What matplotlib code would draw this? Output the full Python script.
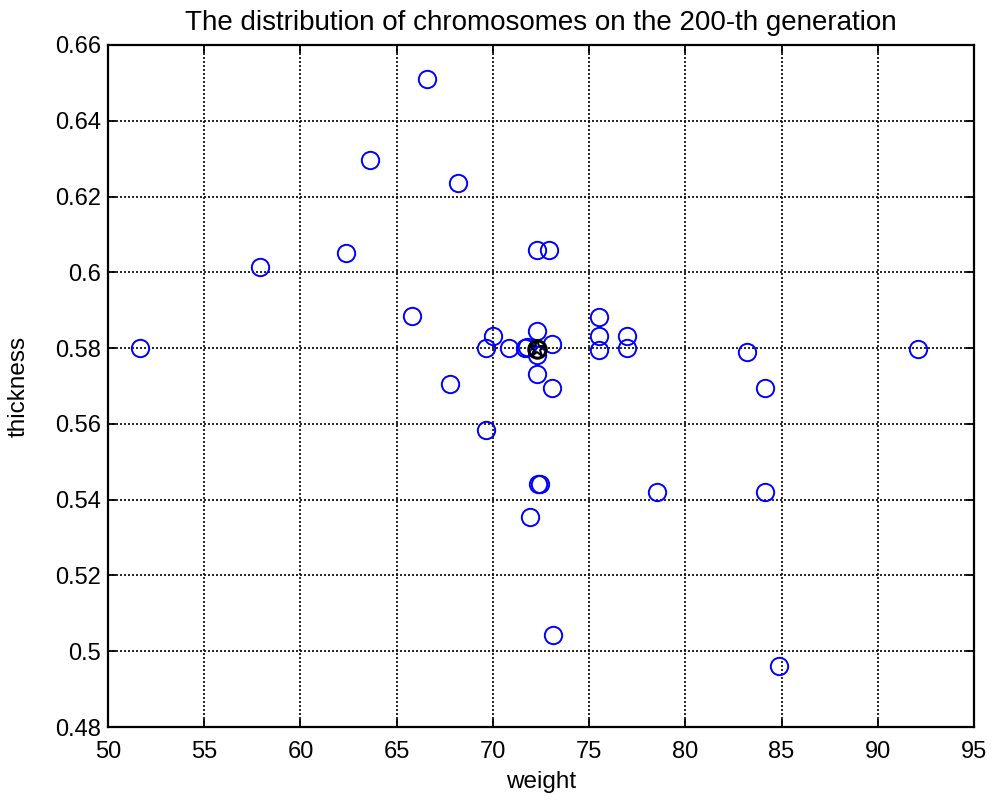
import matplotlib
matplotlib.use("Agg")
import matplotlib.pyplot as plt

plt.rcParams['font.family'] = ['Liberation Sans', 'DejaVu Sans']

# population on the 200-th generation
weight = [51.66, 57.90, 62.37, 63.61, 66.58, 68.19, 65.80, 67.77,
          69.63, 70.02, 69.63, 70.86, 71.67, 71.79, 72.31, 72.31,
          72.31, 73.09, 72.31, 73.06, 75.53, 75.53, 75.53, 76.98,
          76.98, 72.29, 72.92, 72.35, 72.45, 71.93, 73.12, 78.53,
          83.20, 84.14, 84.14, 84.87, 92.09]
thickness = [0.5800, 0.6014, 0.6051, 0.6296, 0.6510, 0.6236, 0.5885, 0.5705,
             0.5800, 0.5832, 0.5584, 0.5800, 0.5801, 0.5804, 0.5846, 0.5798,
             0.5782, 0.5811, 0.5731, 0.5694, 0.5883, 0.5832, 0.5795, 0.5832,
             0.5800, 0.6059, 0.6059, 0.5441, 0.5441, 0.5354, 0.5043, 0.5420,
             0.5790, 0.5695, 0.5420, 0.4961, 0.5798]

best_w = [72.31]
best_t = [0.5798]

xticks = [50, 55, 60, 65, 70, 75, 80, 85, 90, 95]
yticks = [0.48, 0.5, 0.52, 0.54, 0.56, 0.58, 0.6, 0.62, 0.64, 0.66]
ytick_labels = ['0.48', '0.5', '0.52', '0.54', '0.56', '0.58', '0.6', '0.62', '0.64', '0.66']

fig = plt.figure(figsize=(9.93, 8.02), dpi=100)
ax = fig.add_axes([0.1088, 0.0935, 0.8721, 0.8504])

ax.plot(weight, thickness, 'o', mfc='none', mec='#0000ff', ms=12.5, mew=1.4)
ax.plot(best_w, best_t, 'o', mfc='none', mec='k', ms=12.5, mew=2.2)
ax.plot(best_w, best_t, '*', mfc='none', mec='k', ms=12.5, mew=1.5)

ax.set_xlim(50, 95)
ax.set_ylim(0.48, 0.66)
ax.set_xticks(xticks)
ax.set_yticks(yticks)
ax.set_yticklabels(ytick_labels)
ax.grid(True, color='k', linestyle=(0, (1.2, 1.2)), linewidth=1.2)
ax.tick_params(direction='in', top=True, right=True, labelsize=17, length=6, width=1.3)
ax.tick_params(axis='x', pad=10)
ax.tick_params(axis='y', pad=5)
for s in ax.spines.values():
    s.set_linewidth(1.6)

ax.set_xlabel('weight', fontsize=17.5, labelpad=6)
ax.set_ylabel('thickness', fontsize=17.5, labelpad=18)
ax.set_title('The distribution of chromosomes on the 200-th generation', fontsize=20, pad=11)

fig.savefig('out.png', dpi=100)
